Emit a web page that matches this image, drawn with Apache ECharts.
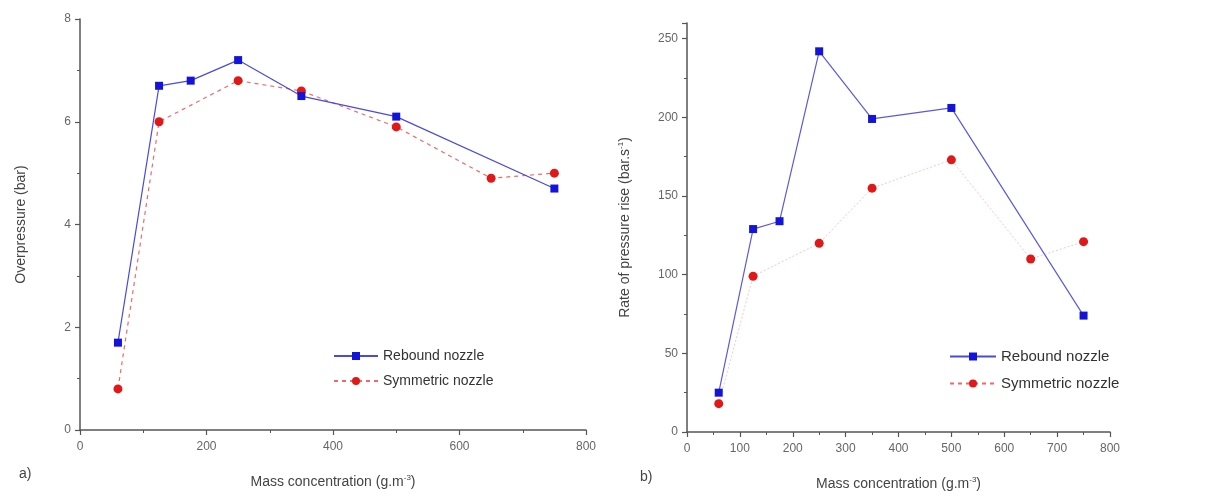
<!DOCTYPE html>
<html>
<head>
<meta charset="utf-8">
<script src="https://cdn.jsdelivr.net/npm/echarts@6/dist/echarts.min.js"></script>
<style>
html,body{margin:0;padding:0;background:#fff;}
#c{width:1222px;height:498px;}
</style>
</head>
<body>
<div id="c"></div>
<script>
// Panel a) Overpressure (bar)
const reboundOverX = [60, 125, 175, 250, 350, 500, 750];
const reboundOverY = [1.7, 6.7, 6.8, 7.2, 6.5, 6.1, 4.7];
const symOverX = [60, 125, 250, 350, 500, 650, 750];
const symOverY = [0.8, 6.0, 6.8, 6.6, 5.9, 4.9, 5.0];
// Panel b) Rate of pressure rise (bar.s-1)
const reboundRateX = [60, 125, 175, 250, 350, 500, 750];
const reboundRateY = [25, 129, 134, 242, 199, 206, 74];
const symRateX = [60, 125, 250, 350, 500, 650, 750];
const symRateY = [18, 99, 120, 155, 173, 110, 121];

const seriesNames = ['Rebound nozzle', 'Symmetric nozzle'];
const xTitle = 'Mass concentration (g.m{sup|-3})';
const yTitleA = 'Overpressure (bar)';
const yTitleB = 'Rate of pressure rise (bar.s{sup|-1})';

function pairs(xs, ys){ return xs.map((x,i)=>[x, ys[i]]); }

const FONT = 'Liberation Sans, Arial, sans-serif';
const axisCol = '#555';
const BLUE = '#1414d8';
const RED = '#e01818';

function xAxis(gridIndex, interval){
  return {
    type:'value', gridIndex, min:0, max:800, interval,
    name: xTitle, nameLocation:'middle', nameGap:44,
    nameTextStyle:{color:'#444', fontSize:14, fontFamily:FONT,
      rich:{sup:{fontSize:8, verticalAlign:'top', padding:[0,0,8,0], color:'#444', fontFamily:FONT}}},
    axisLine:{show:true, onZero:false, lineStyle:{color:axisCol, width:1.5}},
    axisTick:{show:true, inside:false, length:5, lineStyle:{color:axisCol, width:1.2}},
    minorTick:{show:true, splitNumber:2, length:3, lineStyle:{color:axisCol, width:1}},
    axisLabel:{color:'#666', fontSize:12, fontFamily:FONT, margin:11},
    splitLine:{show:false}
  };
}
function yAxis(gridIndex, max, interval, name, gap){
  return {
    type:'value', gridIndex, min:0, max, interval,
    name, nameLocation:'middle', nameGap:gap, nameRotate:90,
    nameTextStyle:{color:'#444', fontSize:14, fontFamily:FONT,
      rich:{sup:{fontSize:8, verticalAlign:'top', padding:[0,0,8,0], color:'#444', fontFamily:FONT}}},
    axisLine:{show:true, onZero:false, lineStyle:{color:axisCol, width:1.5}},
    axisTick:{show:true, inside:false, length:5, lineStyle:{color:axisCol, width:1.2}},
    minorTick:{show:true, splitNumber:2, length:3, lineStyle:{color:axisCol, width:1}},
    axisLabel:{color:'#666', fontSize:12, fontFamily:FONT, margin:9, showMaxLabel: max % interval === 0},
    splitLine:{show:false}
  };
}

const chart = echarts.init(document.getElementById('c'), null, {renderer:'canvas'});
chart.setOption({
  backgroundColor:'#fff',
  animation:false,
  grid:[
    {left:80, top:19, width:506, height:411},
    {left:687, top:23, width:423, height:409}
  ],
  xAxis:[xAxis(0, 200), xAxis(1, 100)],
  yAxis:[yAxis(0, 8, 2, yTitleA, 52), yAxis(1, 260, 50, yTitleB, 54)],
  legend:[
    {data:seriesNames, orient:'vertical', left:328, top:344, itemWidth:44, itemHeight:10, itemGap:11,
      textStyle:{color:'#333', fontSize:14, fontFamily:FONT}, selectedMode:false},
    {data:seriesNames, orient:'vertical', left:944, top:344, itemWidth:46, itemHeight:10, itemGap:12,
      textStyle:{color:'#333', fontSize:15, fontFamily:FONT}, selectedMode:false}
  ],
  graphic:[
    {type:'text', left:19, top:467, style:{text:'a)', fontSize:14, fontFamily:FONT, fill:'#444'}},
    {type:'text', left:640, top:470, style:{text:'b)', fontSize:14, fontFamily:FONT, fill:'#444'}}
  ],
  series:[
    {name:seriesNames[0], type:'line', xAxisIndex:0, yAxisIndex:0, data:pairs(reboundOverX, reboundOverY),
      symbol:'rect', symbolSize:8, itemStyle:{color:BLUE}, lineStyle:{color:'#4a4ae0', width:1.2}, z:3},
    {name:seriesNames[1], type:'line', xAxisIndex:0, yAxisIndex:0, data:pairs(symOverX, symOverY),
      symbol:'circle', symbolSize:9, itemStyle:{color:RED}, lineStyle:{color:'#ec6a6a', width:1.2, type:[4,4]}, z:2},
    {name:seriesNames[0], type:'line', xAxisIndex:1, yAxisIndex:1, data:pairs(reboundRateX, reboundRateY),
      symbol:'rect', symbolSize:8, itemStyle:{color:BLUE}, lineStyle:{color:'#5a5ae0', width:1.2}, z:3},
    {name:seriesNames[1], type:'line', xAxisIndex:1, yAxisIndex:1, data:pairs(symRateX, symRateY),
      symbol:'circle', symbolSize:9, itemStyle:{color:RED}, lineStyle:{color:'#f5c8c8', width:1, type:[2,2]}, z:2}
  ]
});
</script>
</body>
</html>
